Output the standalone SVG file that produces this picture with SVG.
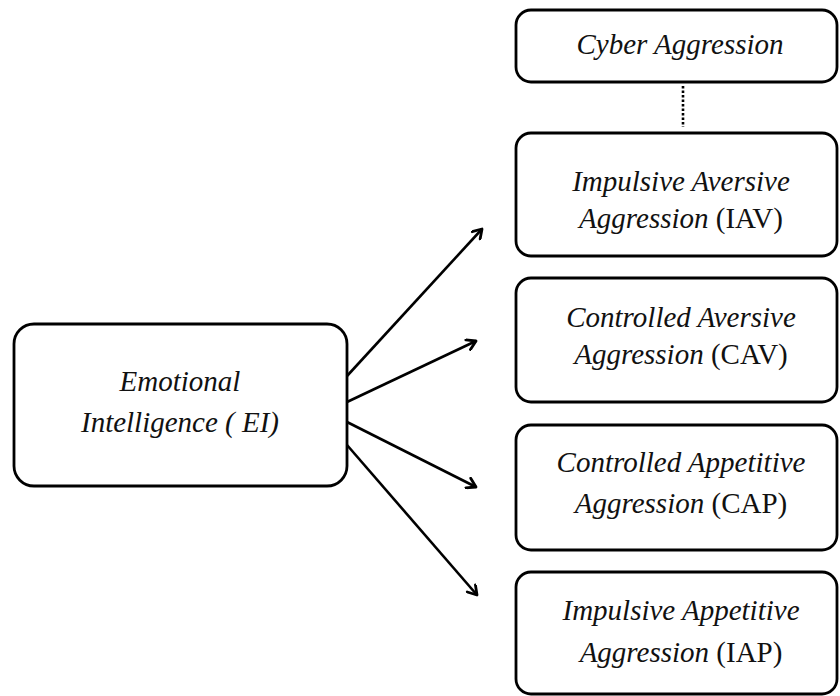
<svg xmlns="http://www.w3.org/2000/svg" width="840" height="696" viewBox="0 0 840 696">
<style>
.box{fill:#fff;stroke:#000;stroke-width:2.8}
.t{font-family:'Liberation Serif', 'Times New Roman', serif;font-size:29px;fill:#111;text-anchor:middle}
.i{font-style:italic}
.c line{stroke:#000;stroke-width:2.6;fill:none}
</style>
<defs>
<marker id="ah" viewBox="0 0 12 12" refX="10" refY="6" markerWidth="13" markerHeight="13" markerUnits="userSpaceOnUse" orient="auto">
<path d="M2,1 L10,6 L2,11" fill="none" stroke="#000" stroke-width="2.6" stroke-linecap="round" stroke-linejoin="round"/>
</marker>
</defs>
<rect width="840" height="696" fill="#fff"/>
<g class="c" id="connectors">
<line x1="683" y1="86" x2="683" y2="127" stroke-dasharray="2.5,2"/>
<line x1="347" y1="376" x2="482" y2="229" marker-end="url(#ah)"/>
<line x1="347" y1="402" x2="476" y2="341" marker-end="url(#ah)"/>
<line x1="347" y1="422" x2="476" y2="487" marker-end="url(#ah)"/>
<line x1="347" y1="445" x2="477" y2="595" marker-end="url(#ah)"/>
</g>
<g id="ei">
<rect class="box" x="14" y="324" width="333" height="162" rx="20"/>
<text class="t i" x="180" y="391">Emotional</text>
<text class="t i" x="180" y="432">Intelligence ( EI)</text>
</g>
<g id="cyber">
<rect class="box" x="516" y="10" width="321" height="72" rx="15"/>
<text class="t i" x="680" y="54">Cyber Aggression</text>
</g>
<g id="iav">
<rect class="box" x="516" y="133" width="321" height="123" rx="15"/>
<text class="t i" x="681" y="191">Impulsive Aversive</text>
<text class="t" x="681" y="228"><tspan class="i">Aggression</tspan> (IAV)</text>
</g>
<g id="cav">
<rect class="box" x="516" y="278" width="321" height="124" rx="15"/>
<text class="t i" x="681" y="327">Controlled Aversive</text>
<text class="t" x="681" y="364"><tspan class="i">Aggression</tspan> (CAV)</text>
</g>
<g id="cap">
<rect class="box" x="516" y="425" width="321" height="125" rx="15"/>
<text class="t i" x="681" y="472">Controlled Appetitive</text>
<text class="t" x="681" y="513"><tspan class="i">Aggression</tspan> (CAP)</text>
</g>
<g id="iap">
<rect class="box" x="516" y="572" width="321" height="122" rx="15"/>
<text class="t i" x="681" y="620">Impulsive Appetitive</text>
<text class="t" x="681" y="662"><tspan class="i">Aggression</tspan> (IAP)</text>
</g>
</svg>
